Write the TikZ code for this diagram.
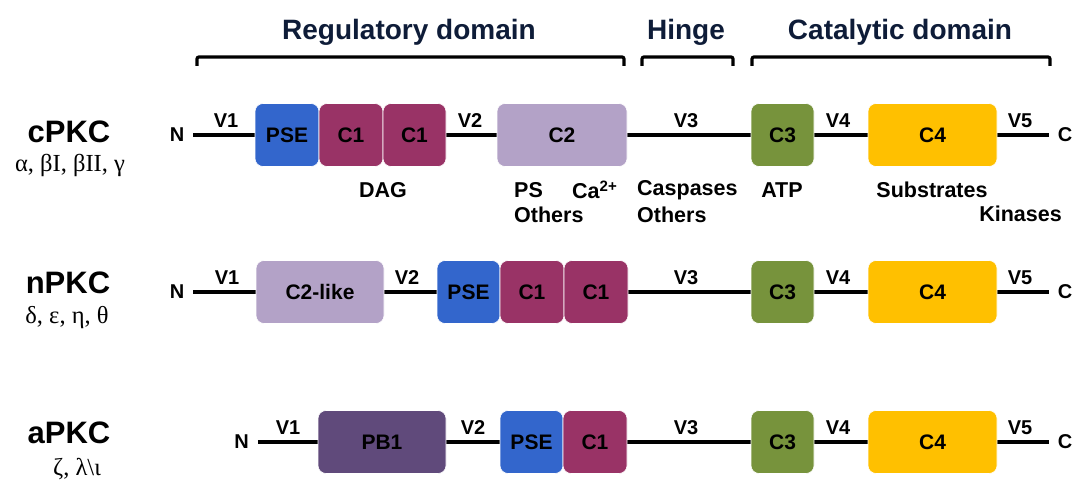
\documentclass[tikz,border=0pt]{standalone}
\usepackage{fontspec}
\setmainfont{Liberation Sans}
\newfontfamily\greekfont{Liberation Serif}
\definecolor{pse}{HTML}{3366CC}
\definecolor{cone}{HTML}{993366}
\definecolor{ctwo}{HTML}{B3A2C7}
\definecolor{cthree}{HTML}{77933C}
\definecolor{cfour}{HTML}{FFC000}
\definecolor{pbone}{HTML}{604A7B}
\definecolor{navy}{HTML}{0E1C38}
\tikzset{
  dombox/.style={rectangle, rounded corners=8pt, draw=white, line width=0.6pt,
    minimum height=63pt, inner sep=0pt, font=\fontsize{21}{24}\selectfont\bfseries},
  vlabel/.style={font=\fontsize{20}{24}\selectfont\bfseries, inner sep=0pt},
  bind/.style={font=\fontsize{21.5}{24}\selectfont\bfseries, inner sep=0pt},
  term/.style={font=\fontsize{20}{24}\selectfont\bfseries, inner xsep=9pt, inner ysep=0pt},
  family/.style={font=\fontsize{31}{34}\selectfont\bfseries, inner sep=0pt},
  isoform/.style={font=\fontsize{24.5}{26}\selectfont\greekfont, inner sep=0pt},
  header/.style={font=\fontsize{28}{30}\selectfont\bfseries, text=navy, inner sep=0pt},
  bracket/.style={line width=3.2pt, rounded corners=2pt}
}
\begin{document}
\begin{tikzpicture}[x=1pt,y=-1pt]
\useasboundingbox (0,0) rectangle (1073,481);
% domain headers
\node[header] (hreg) at (409,32) {Regulatory domain};
\node[header] (hhin) at (686,32) {Hinge};
\node[header] (hcat) at (900,32) {Catalytic domain};
\draw[bracket] (197,66) -- (197,57) -- (624,57) -- (624,66);
\draw[bracket] (642,66) -- (642,57) -- (733,57) -- (733,66);
\draw[bracket] (752,66) -- (752,57) -- (1050,57) -- (1050,66);

% cPKC
\node[family] (cpkc) at (69,132) {cPKC};
\node[isoform] (cpkciso) at (70,165) {α, βI, βII, γ};
\node[term] (n1) at (177,135) {N};
\node[term] (c1) at (1065,135) {C};
\draw[line width=3.5pt] (n1.east) -- (c1.west);
\node[dombox, fill=pse, minimum width=64pt] (c-pse) at (287,135) {PSE};
\node[dombox, fill=cone, minimum width=64pt] (c-cone) at (351,135) {C1};
\node[dombox, fill=cone, minimum width=63pt] (c-conb) at (414.5,135) {C1};
\node[dombox, fill=ctwo, minimum width=130pt] (c-ctwo) at (562,135) {C2};
\node[dombox, fill=cthree, minimum width=63pt] (c-cthree) at (782.5,135) {C3};
\node[dombox, fill=cfour, minimum width=129pt] (c-cfour) at (932.5,135) {C4};
\node[vlabel] at (226,121) {V1};
\node[vlabel] at (470,121) {V2};
\node[vlabel] at (686,121) {V3};
\node[vlabel] at (838,121) {V4};
\node[vlabel] at (1020,121) {V5};
\node[bind] (dag) at (383,190) {DAG};
\node[bind, anchor=west] (ps) at (514,190) {PS};
\node[bind, anchor=west] (ca) at (572,190) {Ca\textsuperscript{2+}};
\node[bind, anchor=west] (oth1) at (514,215) {Others};
\node[bind, anchor=west] (casp) at (637,190) {Caspases};
\node[bind, anchor=west] (oth2) at (637,215) {Others};
\node[bind] (atp) at (782,190) {ATP};
\node[bind] (subs) at (932,190) {Substrates};
\node[bind, anchor=east] (kin) at (1062,214) {Kinases};

% nPKC
\node[family] (npkc) at (68,283) {nPKC};
\node[isoform] (npkciso) at (67,318) {δ, ε, η, θ};
\node[term] (n2) at (177,292) {N};
\node[term] (c2) at (1065,292) {C};
\draw[line width=3.5pt] (n2.east) -- (c2.west);
\node[dombox, fill=ctwo, minimum width=128pt] (n-ctwo) at (320,292) {C2-like};
\node[dombox, fill=pse, minimum width=63pt] (n-pse) at (468.5,292) {PSE};
\node[dombox, fill=cone, minimum width=64pt] (n-cone) at (532,292) {C1};
\node[dombox, fill=cone, minimum width=64pt] (n-conb) at (596,292) {C1};
\node[dombox, fill=cthree, minimum width=63pt] (n-cthree) at (782.5,292) {C3};
\node[dombox, fill=cfour, minimum width=129pt] (n-cfour) at (932.5,292) {C4};
\node[vlabel] at (227,278) {V1};
\node[vlabel] at (407,278) {V2};
\node[vlabel] at (686,278) {V3};
\node[vlabel] at (838,278) {V4};
\node[vlabel] at (1020,278) {V5};

% aPKC
\node[family] (apkc) at (69,433) {aPKC};
\node[isoform] (apkciso) at (77,469) {ζ, λ\textbackslash ι};
\node[term] (n3) at (241.5,442) {N};
\node[term] (c3) at (1065,442) {C};
\draw[line width=3.5pt] (n3.east) -- (c3.west);
\node[dombox, fill=pbone, minimum width=128pt] (a-pbone) at (382,442) {PB1};
\node[dombox, fill=pse, minimum width=63pt] (a-pse) at (531.5,442) {PSE};
\node[dombox, fill=cone, minimum width=64pt] (a-cone) at (595,442) {C1};
\node[dombox, fill=cthree, minimum width=63pt] (a-cthree) at (782.5,442) {C3};
\node[dombox, fill=cfour, minimum width=129pt] (a-cfour) at (932.5,442) {C4};
\node[vlabel] at (288,428) {V1};
\node[vlabel] at (473,428) {V2};
\node[vlabel] at (686,428) {V3};
\node[vlabel] at (838,428) {V4};
\node[vlabel] at (1020,428) {V5};
\end{tikzpicture}
\end{document}
